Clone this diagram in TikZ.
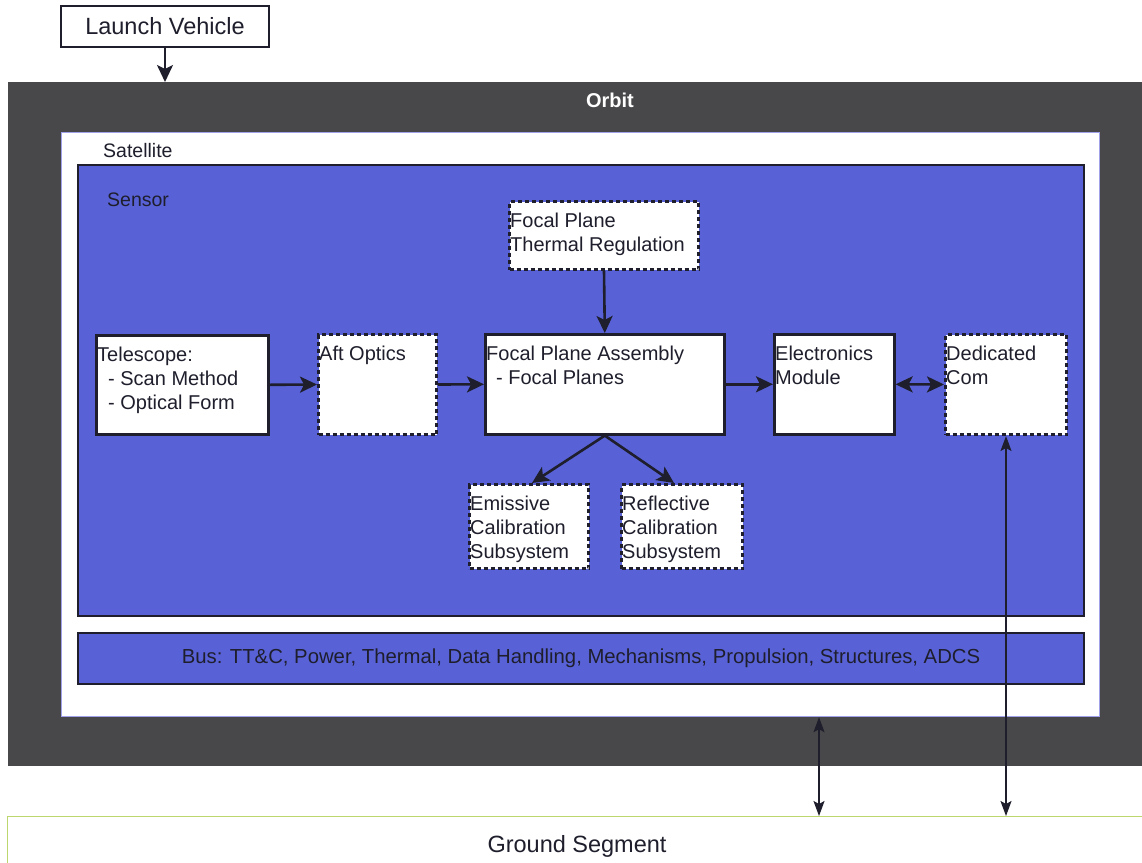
\documentclass[tikz,border=0pt]{standalone}
\usepackage{fontspec}
\setmainfont{Liberation Sans}
\usetikzlibrary{arrows.meta}

\definecolor{orbitgray}{RGB}{72,72,74}
\definecolor{sensorblue}{RGB}{88,98,214}
\definecolor{inkdark}{RGB}{30,30,44}
\definecolor{satedge}{RGB}{160,160,235}
\definecolor{groundedge}{RGB}{190,214,110}

\tikzset{
  box/.style={draw=inkdark, line width=2.6pt, fill=white, anchor=north west, inner sep=0pt},
  dashbox/.style={box, dash pattern=on 4pt off 3pt, line width=3pt},
  boxtext/.style={anchor=north west, inner sep=0pt, align=left, text=inkdark,
    font=\fontsize{20}{24}\selectfont},
  arealabel/.style={anchor=west, inner sep=0pt, font=\fontsize{19.5}{22}\selectfont},
  bigtext/.style={inner sep=0pt, text=inkdark, font=\fontsize{23.5}{26}\selectfont},
  bighead/.tip={Stealth[length=17pt,width=16pt,inset=4pt]},
  smallhead/.tip={Stealth[length=15pt,width=11pt,inset=3pt]},
  flow/.style={draw=inkdark, line width=2.6pt, -bighead},
  flowboth/.style={draw=inkdark, line width=2.6pt, bighead-bighead},
  link/.style={draw=inkdark, line width=1.6pt, smallhead-smallhead},
}

\begin{document}
\begin{tikzpicture}[x=1pt,y=-1pt]
  \useasboundingbox (0,0) rectangle (1142,862);
  \clip (0,0) rectangle (1142,862);
  \fill[white] (0,0) rectangle (1142,862);

  % launch vehicle
  \node[box, line width=2pt, minimum width=208pt, minimum height=41pt] (lv) at (60,5) {};
  \node[bigtext] (lvtext) at (lv.center) {Launch Vehicle};

  % orbit, satellite and sensor areas
  \node[anchor=north west, inner sep=0pt, fill=orbitgray, minimum width=1145pt, minimum height=684pt] (orbit) at (8,82) {};
  \node[inner sep=0pt, text=white, font=\bfseries\fontsize{20}{24}\selectfont] (orbittext) at (610,100) {Orbit};

  \node[box, draw=satedge, line width=1.2pt, minimum width=1038pt, minimum height=584pt] (sat) at (61,132) {};
  \node[arealabel, text=inkdark] (sattext) at (103,151) {Satellite};

  \node[box, fill=sensorblue, line width=2pt, minimum width=1006pt, minimum height=451pt] (sensor) at (77,164) {};
  \node[arealabel, text=inkdark] (sensortext) at (107,200) {Sensor};

  \node[box, fill=sensorblue, line width=2pt, minimum width=1006pt, minimum height=51pt] (bus) at (77,632) {};
  \node[inner sep=0pt, text=inkdark, font=\fontsize{20.3}{22}\selectfont] (bustext) at (bus.center)
    {Bus: TT\&C, Power, Thermal, Data Handling, Mechanisms, Propulsion, Structures, ADCS};

  % sensor blocks
  \node[box, minimum width=172pt, minimum height=99pt] (tel) at (95,334) {};
  \node[boxtext] (teltext) at ([xshift=2pt,yshift=-13pt]tel.north west)
    {Telescope:\\\hspace*{11pt}- Scan Method\\\hspace*{11pt}- Optical Form};

  \node[dashbox, minimum width=118pt, minimum height=100pt] (aft) at (317,333) {};
  \node[boxtext] (afttext) at ([xshift=2pt,yshift=-13pt]aft.north west) {Aft Optics};

  \node[box, minimum width=239pt, minimum height=100pt] (fpa) at (484,333) {};
  \node[boxtext] (fpatext) at ([xshift=2pt,yshift=-13pt]fpa.north west)
    {Focal Plane Assembly\\\hspace*{10pt}- Focal Planes};

  \node[dashbox, minimum width=189pt, minimum height=68pt] (fptr) at (508,200) {};
  \node[boxtext] (fptrtext) at ([xshift=2pt,yshift=-13pt]fptr.north west)
    {Focal Plane\\Thermal Regulation};

  \node[box, minimum width=120pt, minimum height=100pt] (elec) at (773,333) {};
  \node[boxtext] (electext) at ([xshift=2pt,yshift=-13pt]elec.north west) {Electronics\\Module};

  \node[dashbox, minimum width=121pt, minimum height=100pt] (dcom) at (944,333) {};
  \node[boxtext] (dcomtext) at ([xshift=2pt,yshift=-13pt]dcom.north west) {Dedicated\\Com};

  \node[dashbox, minimum width=119pt, minimum height=84pt] (emis) at (468,483) {};
  \node[boxtext] (emistext) at ([xshift=2pt,yshift=-13pt]emis.north west)
    {Emissive\\Calibration\\Subsystem};

  \node[dashbox, minimum width=121pt, minimum height=84pt] (refl) at (620,483) {};
  \node[boxtext] (refltext) at ([xshift=2pt,yshift=-13pt]refl.north west)
    {Reflective\\Calibration\\Subsystem};

  % ground segment
  \node[box, draw=groundedge, line width=1.2pt, minimum width=1145pt, minimum height=60pt] (gs) at (7,816) {};
  \node[bigtext] (gstext) at (577,846) {Ground Segment};

  % connectors
  \draw[flow, line width=2pt] (lv.south) -- (orbit.north -| lv.south);
  \draw[flow] (tel.east) -- (aft.west);
  \draw[flow] (aft.east) -- (fpa.west);
  \draw[flow] (fpa.east) -- (elec.west);
  \draw[flowboth] (elec.east) -- (dcom.west);
  \draw[flow] (fptr.south) -- (fpa.north);
  \draw[flow] (fpa.south) -- ([xshift=3pt]emis.north);
  \draw[flow] (fpa.south) -- ([xshift=-8pt]refl.north);

  \coordinate (downlink) at (819,0);
  \draw[link] (sat.south -| downlink) -- (gs.north -| downlink);
  \draw[link] (dcom.south) -- (gs.north -| dcom.south);
\end{tikzpicture}
\end{document}
